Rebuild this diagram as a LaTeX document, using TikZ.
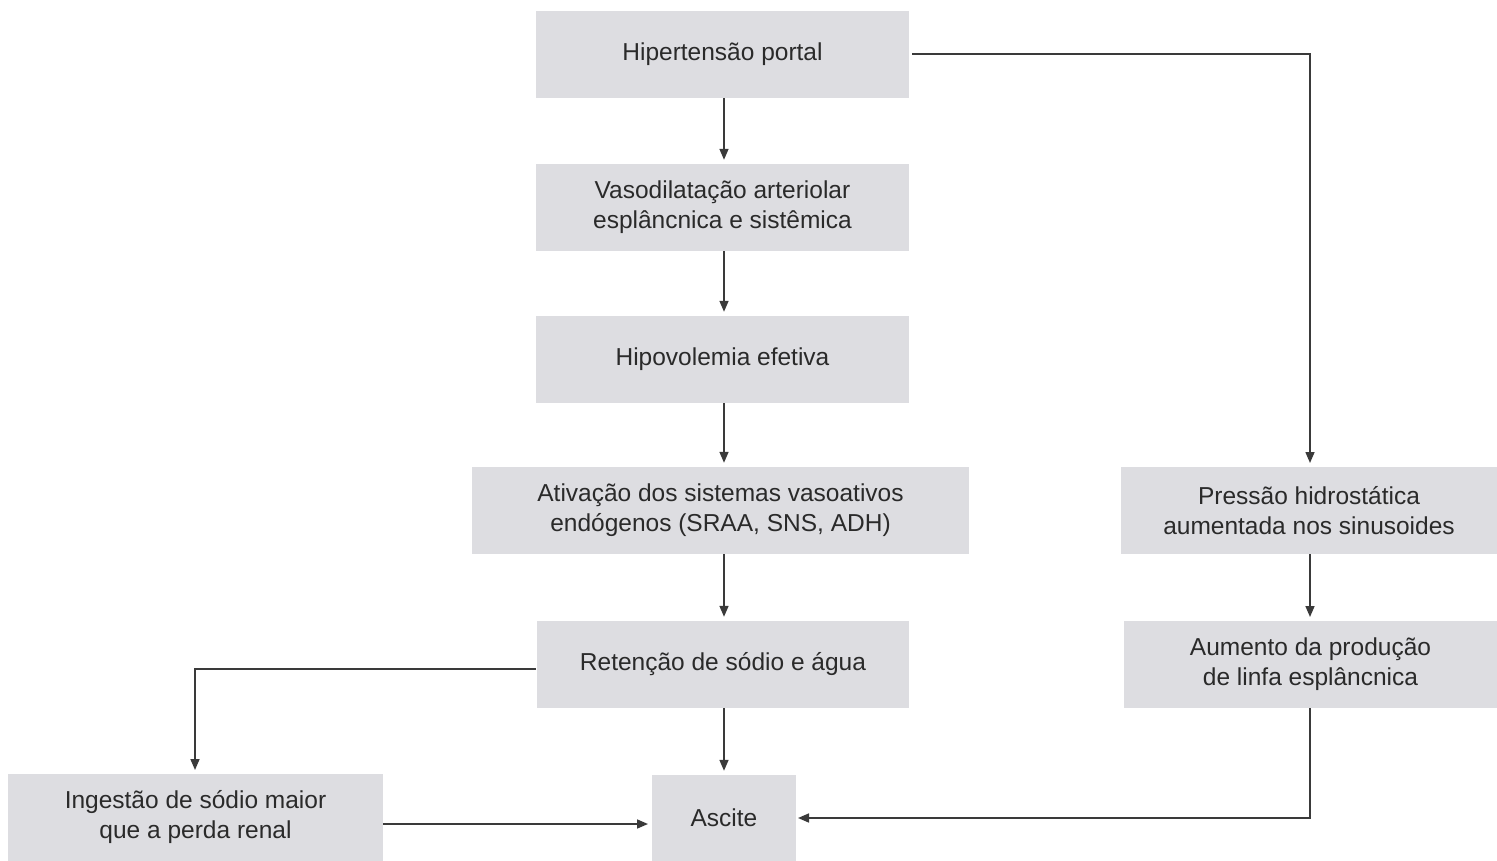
\documentclass[tikz,border=0pt]{standalone}
\usepackage{fontspec}
\setmainfont{Liberation Sans}
\usetikzlibrary{arrows.meta}

\definecolor{boxfill}{HTML}{DDDDE1}
\definecolor{linecol}{HTML}{3A3A3A}
\definecolor{txtcol}{HTML}{2A2A2A}

\tikzset{
  flowbox/.style={rectangle, fill=boxfill, draw=none, inner sep=0pt,
    align=center, text=txtcol,
    font=\fontsize{24.5}{30}\selectfont},
  link/.style={draw=linecol, line width=1.6pt,
    -{Triangle[length=11pt,width=9pt]}, shorten >=4pt},
  plainlink/.style={draw=linecol, line width=1.6pt}
}

\begin{document}
\begin{tikzpicture}[x=1pt,y=-1pt]
  \useasboundingbox (0,0) rectangle (1497,861);

  % central chain
  \node[flowbox, minimum width=373pt, minimum height=87pt] (hp)   at (722.5,54.5)  {Hipertensão portal};
  \node[flowbox, minimum width=373pt, minimum height=87pt] (vaso) at (722.5,207.5) {Vasodilatação arteriolar\\esplâncnica e sistêmica};
  \node[flowbox, minimum width=373pt, minimum height=87pt] (hipo) at (722.5,359.5) {Hipovolemia efetiva};
  \node[flowbox, minimum width=497pt, minimum height=87pt] (ativ) at (720.5,510.5) {Ativação dos sistemas vasoativos\\endógenos (SRAA, SNS, ADH)};
  \node[flowbox, minimum width=372pt, minimum height=87pt] (ret)  at (723,664.5)   {Retenção de sódio e água};
  \node[flowbox, minimum width=144pt, minimum height=86pt] (asc)  at (724,818)     {Ascite};

  % left branch
  \node[flowbox, minimum width=375pt, minimum height=87pt] (ing)  at (195.5,817.5) {Ingestão de sódio maior\\que a perda renal};

  % right branch
  \node[flowbox, minimum width=376pt, minimum height=87pt] (pres) at (1309,510.5)  {Pressão hidrostática\\aumentada nos sinusoides};
  \node[flowbox, minimum width=373pt, minimum height=87pt] (aum)  at (1310.5,664.5) {Aumento da produção\\de linfa esplâncnica};

  % routing points
  \coordinate (hpR)   at (912,54);
  \coordinate (hpC)   at (1310,54);
  \coordinate (presN) at (1310,467);
  \coordinate (presS) at (1310,554);
  \coordinate (aumN)  at (1310,621);
  \coordinate (retL)  at (536,669);
  \coordinate (retC)  at (195,669);
  \coordinate (ingN)  at (195,774);
  \coordinate (ingR)  at (383,824);
  \coordinate (ascL)  at (652,824);
  \coordinate (aumS)  at (1310,708);
  \coordinate (aumC)  at (1310,818);
  \coordinate (ascR)  at (796,818);

  % vertical flow
  \draw[link] ([xshift=1.5pt]hp.south)   -- ([xshift=1.5pt]vaso.north);
  \draw[link] ([xshift=1.5pt]vaso.south) -- ([xshift=1.5pt]hipo.north);
  \draw[link] ([xshift=1.5pt]hipo.south) -- ([xshift=3.5pt]ativ.north);
  \draw[link] ([xshift=3.5pt]ativ.south) -- ([xshift=1pt]ret.north);
  \draw[link] ([xshift=1pt]ret.south)    -- (asc.north);

  % side routes
  \draw[link] (hpR) -- (hpC) -- (presN);
  \draw[link] (presS) -- (aumN);
  \draw[link] (retL) -- (retC) -- (ingN);
  \draw[link] (ingR) -- (ascL);
  \draw[link, shorten >=2pt] (aumS) -- (aumC) -- (ascR);
\end{tikzpicture}
\end{document}
